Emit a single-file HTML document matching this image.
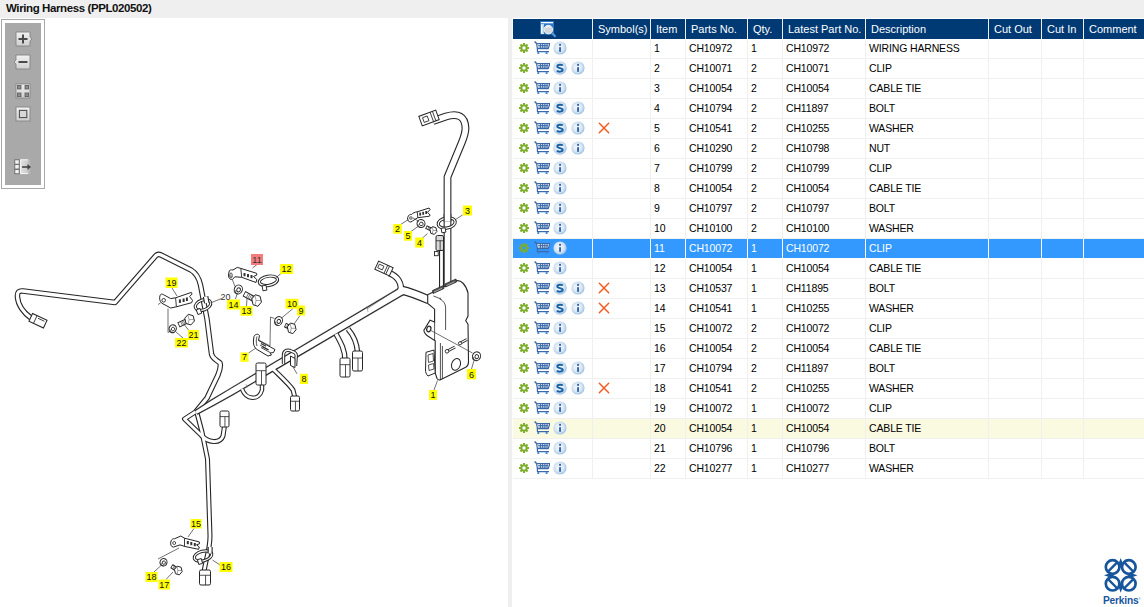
<!DOCTYPE html>
<html><head><meta charset="utf-8"><title>Wiring Harness</title>
<style>
html,body{margin:0;padding:0;}
body{width:1144px;height:607px;overflow:hidden;background:#efefef;position:relative;font-family:"Liberation Sans",sans-serif;}
.title{position:absolute;left:6px;top:2px;font-size:11.5px;letter-spacing:-0.4px;font-weight:bold;color:#111;white-space:nowrap;}
.lp{position:absolute;left:0;top:18px;width:508px;height:589px;background:#fff;overflow:hidden;}
.rp{position:absolute;left:512px;top:18px;width:632px;height:589px;background:#fff;overflow:hidden;}
.tb{position:absolute;left:1px;top:19px;width:42px;height:168px;border:1px solid #a8a8a8;background:#fff;}
.tbi{position:absolute;left:3px;top:3px;width:36px;height:162px;background:#a9a9a9;}
.th,.tr{position:absolute;left:513px;width:631px;height:20px;}
.th{background:#efefef;}
.hc{position:absolute;top:0;height:20px;background:#003a74;color:#fff;font-size:11px;}
.hc span{position:absolute;left:5px;top:4px;white-space:nowrap;}
.tr{background:#f0f0f0;}
.c{position:absolute;top:0;height:19px;background:#fff;font-size:10.5px;letter-spacing:-0.15px;color:#000;}
.c span{position:absolute;left:3px;top:3px;white-space:nowrap;}
.sel .c{background:#3399ff;color:#fff;--gh:#3399ff;}
.sel{background:#fff;}
.hov .c{background:#fafae1;}
.ic{position:absolute;left:0;top:0;}
.xx{position:absolute;left:4px;top:2px;}
.logo{position:absolute;left:1100px;top:558px;}
</style></head><body>
<svg width="0" height="0" style="position:absolute">
<defs>
<radialGradient id="cg" cx="45%" cy="45%" r="55%">
<stop offset="0" stop-color="#f4f7fb"/><stop offset="0.5" stop-color="#e2ecf5"/><stop offset="0.8" stop-color="#c4daee"/><stop offset="0.95" stop-color="#9fc2e3"/><stop offset="1" stop-color="#b5d0ea"/>
</radialGradient>
<symbol id="gear" viewBox="0 0 10 10" width="10" height="10">
<g fill="#7cae2a"><circle cx="5" cy="5" r="3.6"/>
<rect x="4" y="0" width="2" height="10"/><rect x="0" y="4" width="10" height="2"/>
<rect x="4" y="0" width="2" height="10" transform="rotate(45 5 5)"/><rect x="4" y="0" width="2" height="10" transform="rotate(-45 5 5)"/></g>
<circle cx="5" cy="5" r="1.7" fill="var(--gh,#fff)"/>
</symbol>
<symbol id="cart" viewBox="0 0 16 13" width="16" height="13">
<g fill="none" stroke="#3c6aa8" stroke-linejoin="round">
<path d="M0.6 0.5 L2.6 2.6" stroke-width="1.4"/>
<path d="M2.6 2.6 H15.8 L14.3 7.6 H3.4 Z" stroke-width="1.2" fill="#fff"/>
<path d="M3.4 7.6 V10.6 H15" stroke-width="1.2"/>
</g>
<g fill="#3c6aa8"><rect x="4.2" y="4" width="10" height="0.9"/><rect x="4.2" y="5.6" width="9.6" height="0.9"/>
<rect x="6" y="3" width="0.9" height="4.4"/><rect x="8.2" y="3" width="0.9" height="4.4"/><rect x="10.4" y="3" width="0.9" height="4.4"/><rect x="12.6" y="3" width="0.9" height="4.4"/></g>
<circle cx="4.3" cy="12" r="1.1" fill="#3f86d8"/><circle cx="12.6" cy="12" r="1.1" fill="#3f86d8"/>
</symbol>
<symbol id="scirc" viewBox="0 0 14 14" width="14" height="14">
<circle cx="7" cy="7" r="6.8" fill="url(#cg)"/>
<path d="M9.6 4.6 C9 3.4 4.3 3.3 4.3 5.6 C4.3 7.6 9.7 6.6 9.7 8.8 C9.7 11.2 4.8 11 4 9.6" fill="none" stroke="#1862a5" stroke-width="2"/>
</symbol>
<symbol id="icirc" viewBox="0 0 14 14" width="14" height="14">
<circle cx="7" cy="7" r="6.6" fill="url(#cg)"/>
<rect x="6.1" y="2.9" width="1.9" height="1.9" fill="#3465a8"/><rect x="6.1" y="6.2" width="1.9" height="4.6" fill="#3465a8"/>
</symbol>
<symbol id="xmark" viewBox="0 0 14 14" width="14" height="14">
<path d="M2.3 2.3 L11.7 11.7 M11.7 2.3 L2.3 11.7" stroke="#f55a20" stroke-width="1.5" stroke-linecap="round"/>
</symbol>
<symbol id="zoom" viewBox="0 0 22 18" width="22" height="18">
<rect x="0" y="1" width="14" height="13.5" fill="#2a78c6"/>
<rect x="1" y="2" width="12" height="1.3" fill="#fff"/>
<rect x="1" y="4.3" width="3" height="9.5" fill="#fff"/>
<path d="M2.5 6 H4 M2.5 8 H4 M2.5 10 H4 M2.5 12 H4" stroke="#2a78c6" stroke-width="0.8"/>
<path d="M11.8 13 L15.6 16.8" stroke="#5a98d8" stroke-width="2.2"/>
<circle cx="8.3" cy="9.6" r="4.3" fill="#d3d6da" stroke="#f4f4f4" stroke-width="1"/>
<path d="M6 7.5 C7 6.5 9 6.3 10.5 7.2" stroke="#fff" stroke-width="1" fill="none"/>
</symbol>
</defs></svg>
<div class="title">Wiring Harness (PPL020502)</div>
<div class="lp"></div>
<div class="rp"></div>
<div class="tb"><div class="tbi"></div></div>
<svg style="position:absolute;left:0;top:18px" width="50" height="170">
<defs><linearGradient id="bg1" x1="0" y1="0" x2="0" y2="1"><stop offset="0" stop-color="#f2f2f2"/><stop offset="1" stop-color="#cfcfcf"/></linearGradient></defs>
<g transform="translate(0,-18)">
<!-- plus -->
<path d="M16 32 H30 V37 L32 39 L30 41 V46 H16 Z" fill="url(#bg1)" stroke="#858585" stroke-width="0.9"/>
<path d="M23 34.5 V43.5 M18.5 39 H27.5" stroke="#4a4a4a" stroke-width="2"/>
<!-- minus -->
<path d="M16 55 H30 V69 H16 V64 L14 62 L16 60 Z" fill="url(#bg1)" stroke="#858585" stroke-width="0.9"/>
<path d="M18.5 62 H27.5" stroke="#4a4a4a" stroke-width="2"/>
<!-- grid -->
<rect x="16" y="84" width="14" height="14" fill="url(#bg1)" stroke="#858585" stroke-width="0.9"/>
<g fill="#8c8c8c" stroke="#5a5a5a" stroke-width="0.8"><rect x="17.4" y="85.4" width="3.6" height="3.6"/><rect x="25" y="85.4" width="3.6" height="3.6"/><rect x="17.4" y="93" width="3.6" height="3.6"/><rect x="25" y="93" width="3.6" height="3.6"/></g>
<!-- square -->
<rect x="16" y="107" width="14" height="14" fill="url(#bg1)" stroke="#858585" stroke-width="0.9"/>
<rect x="19.4" y="110.4" width="7.4" height="7.2" fill="#d8d8d8" stroke="#505050" stroke-width="1.1"/>
<!-- panel arrow -->
<defs><linearGradient id="pg" x1="0" y1="0" x2="1" y2="0"><stop offset="0" stop-color="#e0e0e0"/><stop offset="0.6" stop-color="#cfcfcf"/><stop offset="1" stop-color="#a9a9a9"/></linearGradient></defs>
<g>
<rect x="14.8" y="159.8" width="4.4" height="4.4" fill="#f2f2f2" stroke="#5e5e5e" stroke-width="0.8"/>
<rect x="14.8" y="164.6" width="4.4" height="4.4" fill="#f2f2f2" stroke="#5e5e5e" stroke-width="0.8"/>
<rect x="14.8" y="169.4" width="4.4" height="4.4" fill="#f2f2f2" stroke="#5e5e5e" stroke-width="0.8"/>
<rect x="20" y="159.5" width="11" height="14.5" fill="url(#pg)"/>
<path d="M20.6 159.8 V173.6 M20.6 159.8 H28 M20.6 173.6 H28" stroke="#fafafa" stroke-width="0.9"/>
<path d="M22 167 H28" stroke="#454545" stroke-width="1.6"/><path d="M27.5 164 L31 167 L27.5 170 Z" fill="#454545"/>
</g>
</g></svg>
<svg style="position:absolute;left:0;top:0" width="508" height="607" viewBox="0 0 508 607">
<path d="M31 318 C24 313 18 305 17.5 297 C17 292 19 290.5 23 291 L115 302.5 L156 255.5 C157.5 254 159 254 161 255 L191 270 C196 273 199 278 200.5 285 L207 319 L211.5 354 C212.5 359 217 360 220 363 C221 366 220 370 218 375 L207 398 L196 411.5" fill="none" stroke="#262626" stroke-width="5.5" stroke-linejoin="round"/>
<path d="M196 411.5 L184.5 419 L201 435 C208 443 220 444 223 436 L224.5 426" fill="none" stroke="#262626" stroke-width="5" stroke-linejoin="round"/>
<path d="M197 413 L202 432 L207.5 459 L210 536 C210 550 206 558 204 572" fill="none" stroke="#262626" stroke-width="5" stroke-linejoin="round"/>
<path d="M31 318 C24 313 18 305 17.5 297 C17 292 19 290.5 23 291 L115 302.5 L156 255.5 C157.5 254 159 254 161 255 L191 270 C196 273 199 278 200.5 285 L207 319 L211.5 354 C212.5 359 217 360 220 363 C221 366 220 370 218 375 L207 398 L196 411.5" fill="none" stroke="#fff" stroke-width="3.3" stroke-linejoin="round"/>
<path d="M196 411.5 L184.5 419 L201 435 C208 443 220 444 223 436 L224.5 426" fill="none" stroke="#fff" stroke-width="2.8" stroke-linejoin="round"/>
<path d="M197 413 L202 432 L207.5 459 L210 536 C210 550 206 558 204 572" fill="none" stroke="#fff" stroke-width="2.8" stroke-linejoin="round"/>
<path d="M197.33 414.74 L213.71 405.94 L233.93 394.67 L404.24 294.79 L399.76 287.21 L230.07 388.13 L210.29 400.06 L194.67 410.26Z" fill="#262626" stroke="#262626" stroke-width="0.2"/>
<path d="M399 292 L402 291" fill="none" stroke="#262626" stroke-width="8.5" stroke-linejoin="round"/>
<path d="M401 290 C410 292 420 296 429 300" fill="none" stroke="#262626" stroke-width="9" stroke-linejoin="round"/>
<path d="M389 273 C397 276 403 283 400 293" fill="none" stroke="#262626" stroke-width="6.5" stroke-linejoin="round"/>
<path d="M242 389 C246 400 259 401 262 390 L262 385" fill="none" stroke="#262626" stroke-width="4.5" stroke-linejoin="round"/>
<path d="M273 369 C280 376 289 384 293 390 L295 398" fill="none" stroke="#262626" stroke-width="5" stroke-linejoin="round"/>
<path d="M336 334 C341 343 345 350 345 360" fill="none" stroke="#262626" stroke-width="5.5" stroke-linejoin="round"/>
<path d="M348 329 C354 336 357 344 357.5 352" fill="none" stroke="#262626" stroke-width="5.5" stroke-linejoin="round"/>
<path d="M196.77 413.79 L213.15 404.99 L233.37 393.72 L403.68 293.84 L400.32 288.16 L230.63 389.08 L210.85 401.01 L195.23 411.21Z" fill="#fff"/><path d="M399 292 L402 291" fill="none" stroke="#fff" stroke-width="6.3" stroke-linejoin="round"/>
<path d="M401 290 C410 292 420 296 429 300" fill="none" stroke="#fff" stroke-width="6.8" stroke-linejoin="round"/>
<path d="M389 273 C397 276 403 283 400 293" fill="none" stroke="#fff" stroke-width="4.3" stroke-linejoin="round"/>
<path d="M242 389 C246 400 259 401 262 390 L262 385" fill="none" stroke="#fff" stroke-width="2.3" stroke-linejoin="round"/>
<path d="M273 369 C280 376 289 384 293 390 L295 398" fill="none" stroke="#fff" stroke-width="2.8" stroke-linejoin="round"/>
<path d="M336 334 C341 343 345 350 345 360" fill="none" stroke="#fff" stroke-width="3.3" stroke-linejoin="round"/>
<path d="M348 329 C354 336 357 344 357.5 352" fill="none" stroke="#fff" stroke-width="3.3" stroke-linejoin="round"/>
<path d="M367 309 L397 289" stroke="#555" stroke-width="0.6" fill="none"/>
<path d="M367 306 L368 312 M246 384 L247 388" stroke="#777" stroke-width="0.5" fill="none"/>
<path d="M441.5 238 L441.5 292" fill="none" stroke="#262626" stroke-width="5" stroke-linejoin="round"/>
<path d="M433 121 L446 116.5 C458 113 465 116 465.5 128 C465.5 133 464 137 462 142 L447.5 177 L447.5 286" fill="none" stroke="#262626" stroke-width="7.8" stroke-linejoin="round"/>
<path d="M441.5 238 L441.5 292" fill="none" stroke="#fff" stroke-width="2.8" stroke-linejoin="round"/>
<path d="M433 121 L446 116.5 C458 113 465 116 465.5 128 C465.5 133 464 137 462 142 L447.5 177 L447.5 286" fill="none" stroke="#fff" stroke-width="5.6" stroke-linejoin="round"/>
<path d="M427.7 294.8 L455.4 281 C461 279 466 285 468 293 L468 316 L465.7 320.7 L468 324.2 L468.5 362 C468.5 365 467 366.5 465.7 367.3 L441 379.5 C439 380.5 438 380 437 378.5 L435.2 373 L435.2 350 L435.2 340.8 L427 335.5 C424 333 423 330 424.8 328.8 L430 320.2 L434.6 321.9 L434.6 309.2 L427.7 303.4 Z" fill="#fff" stroke="#262626" stroke-width="1.1"/>
<path d="M433.5 296 C441.5 298.8 445.6 302 445.6 308 L445.6 330 M440.4 343 L440.4 380 M442.4 346 L442.4 379" fill="none" stroke="#262626" stroke-width="0.8"/>
<path d="M434.6 321.9 L434.6 340.8" fill="none" stroke="#262626" stroke-width="0.8"/>
<path d="M432.5 290.5 L443.5 285.5 L444 288.5 L433 293.5 Z M445 284 L456 279 L456.5 282 L445.5 287 Z" fill="#555" stroke="#262626" stroke-width="0.8"/>
<path d="M434 292 L442 288.2 M446.5 285.5 L454.5 281.7" stroke="#ddd" stroke-width="0.6"/>
<ellipse cx="456" cy="364.4" rx="4.3" ry="6" transform="rotate(20 456 364.4)" fill="#fff" stroke="#262626" stroke-width="1"/>
<path d="M426 352.3 L434 350 L435.2 373 L428 376 C426 374 425.5 372 425.5 370 Z" fill="#fff" stroke="#262626" stroke-width="1"/>
<path d="M428 355 L433 353.5 L433.5 361 L428.5 362.5 Z M428.5 365 L433.5 363.5 L434 369 L429 370.5 Z" fill="none" stroke="#262626" stroke-width="0.8"/>
<ellipse cx="428.8" cy="329" rx="2" ry="2.8" transform="rotate(20 428.8 329)" fill="#fff" stroke="#262626" stroke-width="1.2"/>
<path d="M459.5 343.5 L467 339.5 M446.5 351.5 L455 347" stroke="#262626" stroke-width="3"/><path d="M459.5 343.5 L467 339.5 M446.5 351.5 L455 347" stroke="#fff" stroke-width="1.2"/>
<circle cx="460" cy="343.3" r="1.6" fill="#fff" stroke="#262626" stroke-width="0.9"/><circle cx="447" cy="351.3" r="1.8" fill="#fff" stroke="#262626" stroke-width="0.9"/>
<g transform="rotate(25 38.0 320.75)"><rect x="30" y="316.5" width="16" height="8.5" fill="#fff" stroke="#262626" stroke-width="1"/><path d="M35 316.5 L35 325 M37 318.5 L44 318.5" stroke="#262626" stroke-width="0.8"/></g>
<g transform="rotate(25 384.0 268.5)"><rect x="376" y="264" width="16" height="9" fill="#fff" stroke="#262626" stroke-width="1"/><path d="M386 264 L386 273 M388 264 L388 273" stroke="#262626" stroke-width="0.8"/><rect x="378" y="266.5" width="5" height="4" fill="none" stroke="#262626" stroke-width="0.8"/></g>
<g transform="rotate(-20 429.0 118.0)"><rect x="420" y="113" width="18" height="10" fill="#fff" stroke="#262626" stroke-width="1"/><path d="M432 113 L432 123 M434.5 113 L434.5 123" stroke="#262626" stroke-width="0.8"/><rect x="423" y="115.5" width="5" height="5" fill="none" stroke="#262626" stroke-width="0.8"/></g>
<rect x="256" y="363" width="10" height="22" rx="1.5" fill="#fff" stroke="#262626" stroke-width="1"/><path d="M256 370.7 L266 370.7 M261.5 370.7 L261.5 385" stroke="#262626" stroke-width="0.8"/>
<rect x="290.5" y="396" width="9" height="15" rx="1.5" fill="#fff" stroke="#262626" stroke-width="1"/><path d="M290.5 401.25 L299.5 401.25 M295.45 401.25 L295.45 411" stroke="#262626" stroke-width="0.8"/>
<rect x="340" y="358" width="10" height="19" rx="1.5" fill="#fff" stroke="#262626" stroke-width="1"/><path d="M340 364.65 L350 364.65 M345.5 364.65 L345.5 377" stroke="#262626" stroke-width="0.8"/>
<rect x="352.5" y="351" width="10" height="20" rx="1.5" fill="#fff" stroke="#262626" stroke-width="1"/><path d="M352.5 358.0 L362.5 358.0 M358.0 358.0 L358.0 371" stroke="#262626" stroke-width="0.8"/>
<rect x="220" y="411" width="9" height="16" rx="1.5" fill="#fff" stroke="#262626" stroke-width="1"/><path d="M220 416.6 L229 416.6 M224.95 416.6 L224.95 427" stroke="#262626" stroke-width="0.8"/>
<rect x="199.5" y="570" width="11" height="15" rx="1.5" fill="#fff" stroke="#262626" stroke-width="1"/><path d="M199.5 575.25 L210.5 575.25 M205.55 575.25 L205.55 585" stroke="#262626" stroke-width="0.8"/>
<rect x="436" y="235.5" width="7.5" height="15" rx="1.5" fill="#d8d8d8" stroke="#262626" stroke-width="1"/><path d="M436 240.75 L443.5 240.75 M440.125 240.75 L440.125 250.5" stroke="#262626" stroke-width="0.8"/>
<rect x="434.5" y="251.5" width="3.7" height="4.2" fill="#fff" stroke="#262626" stroke-width="0.9"/>
<g transform="rotate(-20 203 305)"><ellipse cx="203" cy="305" rx="8" ry="5" fill="none" stroke="#262626" stroke-width="3.2"/><ellipse cx="203" cy="305" rx="8" ry="5" fill="none" stroke="#fff" stroke-width="1.3"/></g><rect x="197" y="309" width="4" height="5" fill="#fff" stroke="#262626" stroke-width="0.9" transform="rotate(-20 199.0 311.5)"/>
<g transform="rotate(-10 446.7 223)"><ellipse cx="446.7" cy="223" rx="8.6" ry="5" fill="none" stroke="#262626" stroke-width="3.2"/><ellipse cx="446.7" cy="223" rx="8.6" ry="5" fill="none" stroke="#fff" stroke-width="1.3"/></g><rect x="441.5" y="228" width="4" height="4.5" fill="#fff" stroke="#262626" stroke-width="0.9" transform="rotate(-10 443.5 230.25)"/>
<path d="M283.5 364 L283.5 355 C283.5 351 286.5 349.5 290 350.5 L294.5 352.5 C296.5 353.5 296.5 356 296 358.5 L295.5 366" fill="none" stroke="#262626" stroke-width="3.4" stroke-linejoin="round"/>
<path d="M283.5 364 L283.5 355 C283.5 351 286.5 349.5 290 350.5 L294.5 352.5 C296.5 353.5 296.5 356 296 358.5 L295.5 366" fill="none" stroke="#fff" stroke-width="1.4" stroke-linejoin="round"/>
<path d="M290.5 356 L295 358.5 L295 367.5 L290.5 365.5 Z" fill="#fff" stroke="#262626" stroke-width="1"/>
<g transform="rotate(-15 203 556)"><ellipse cx="203" cy="556" rx="9" ry="4.8" fill="none" stroke="#262626" stroke-width="3.2"/><ellipse cx="203" cy="556" rx="9" ry="4.8" fill="none" stroke="#fff" stroke-width="1.3"/></g><rect x="198" y="559" width="4" height="5" fill="#fff" stroke="#262626" stroke-width="0.9" transform="rotate(-15 200.0 561.5)"/>
<g transform="rotate(-10 268.4 280.8)"><ellipse cx="268.4" cy="280.8" rx="9.2" ry="4.6" fill="none" stroke="#262626" stroke-width="3.2"/><ellipse cx="268.4" cy="280.8" rx="9.2" ry="4.6" fill="none" stroke="#fff" stroke-width="1.3"/></g><rect x="262.5" y="285.5" width="4" height="5" fill="#fff" stroke="#262626" stroke-width="0.9" transform="rotate(-10 264.5 288.0)"/>
<path d="M447.5 214 L447.5 221.5" fill="none" stroke="#262626" stroke-width="7.8" stroke-linejoin="round"/>
<path d="M205.6 296.5 L206.8 303" fill="none" stroke="#262626" stroke-width="5.5" stroke-linejoin="round"/>
<path d="M210.2 547 L210.1 553.5" fill="none" stroke="#262626" stroke-width="5" stroke-linejoin="round"/>
<path d="M447.5 214 L447.5 221.5" fill="none" stroke="#fff" stroke-width="5.6" stroke-linejoin="round"/>
<path d="M205.6 296.5 L206.8 303" fill="none" stroke="#fff" stroke-width="3.3" stroke-linejoin="round"/>
<path d="M210.2 547 L210.1 553.5" fill="none" stroke="#fff" stroke-width="2.8" stroke-linejoin="round"/>
<g transform="translate(160 292) rotate(0) scale(1.0 1.0)"><path d="M0 3.7 C0.5 2 2 1.8 3.2 2.5 L10.7 6.6 L15.6 5.8 L31.3 0.4 L32.1 2 L29.6 4.5 L32.5 8.3 L31.7 10.7 L16.4 14.8 L10.7 16 L1.6 11.1 C-0.5 9 -0.8 6 0 3.7 Z" fill="#fff" stroke="#262626" stroke-width="1"/><path d="M15.6 5.8 L16.4 14.8" stroke="#262626" stroke-width="0.9"/><circle cx="3.7" cy="8.3" r="1.8" fill="none" stroke="#262626" stroke-width="0.9"/><rect x="18.9" y="7.4" width="2" height="3.5" fill="#333"/><rect x="22.6" y="6.5" width="2" height="3.5" fill="#333"/><rect x="25.9" y="5.5" width="2" height="3.5" fill="#333"/></g>
<path d="M407.7 217.5 C408.5 215 410 214 411.4 214.5 C413 213 415 212 417.3 211.8 L429.1 208 L430.1 209.6 L427.5 212.3 L430.1 215 L429.5 216.2 L417.8 217.7 C415 219 413 221 410.9 222 C408.5 222 407 220 407.7 217.5 Z" fill="#fff" stroke="#262626" stroke-width="1"/>
<path d="M417.3 211.8 L417.8 217.7" stroke="#262626" stroke-width="0.9"/><circle cx="410.9" cy="218" r="1.3" fill="none" stroke="#262626" stroke-width="0.8"/>
<rect x="419.3" y="212.6" width="1.8" height="3" fill="#333"/><rect x="422.3" y="211.8" width="1.8" height="3" fill="#333"/><rect x="425.3" y="211" width="1.8" height="3" fill="#333"/>
<path d="M171 541 C172 539 173 538.5 174.5 538.8 L180.8 536 L184.5 538.2 L199.3 541.9 L199.5 543.8 L196.5 544.8 L199.3 547 L198.6 549.3 L184.5 546.4 L180 544.9 L173.4 547.1 C171 547 170 544 171 541 Z" fill="#fff" stroke="#262626" stroke-width="1"/>
<path d="M184.5 538.2 L184.5 546.4" stroke="#262626" stroke-width="0.9"/><circle cx="174.2" cy="543" r="1.5" fill="none" stroke="#262626" stroke-width="0.8"/>
<rect x="186.8" y="541" width="2" height="3.2" fill="#333"/><rect x="190.3" y="542" width="2" height="3.2" fill="#333"/><rect x="193.8" y="543" width="2" height="3.2" fill="#333"/>
<path d="M229 272 C229 270 231 269.5 233 270 L237.3 267.4 L240.8 268.4 L256.6 273.3 L256.8 275 L253.5 276.5 L256.8 279.5 L256 282.5 L241.7 277.3 L234.8 276.8 L232.5 279.5 C230 280 228.5 278 228.5 275 Z" fill="#fff" stroke="#262626" stroke-width="1"/>
<path d="M240.8 268.4 L241.7 277.3" stroke="#262626" stroke-width="0.9"/><ellipse cx="231" cy="275.5" rx="1.3" ry="2.6" fill="none" stroke="#262626" stroke-width="0.8"/>
<rect x="243.5" y="273" width="2" height="3.2" fill="#333"/><rect x="247" y="274" width="2" height="3.2" fill="#333"/><rect x="250.5" y="275" width="2" height="3.2" fill="#333"/>
<path d="M254 336.5 C255 334 258 333.5 259.5 335.5 L258.5 340.5 L275 349.5 L273.5 352.5 L270 353 L271.5 355 L268 356 L257 349.5 C254 347.5 253 344 253.5 340 Z" fill="#fff" stroke="#262626" stroke-width="1"/>
<path d="M257 336.5 C256 339 256 343 257 346 M260 345 L269 350 M261 347.5 L270 352.5" stroke="#262626" stroke-width="0.8" fill="none"/>
<path d="M261 343.5 L266 346.3 M262 346.5 L268 349.8" stroke="#333" stroke-width="1.3"/>
<g transform="rotate(20 172.7 328.7)"><ellipse cx="172.7" cy="328.7" rx="3.6" ry="4" fill="#fff" stroke="#262626" stroke-width="1"/><ellipse cx="173.1" cy="328.9" rx="1.62" ry="1.8" fill="none" stroke="#262626" stroke-width="0.9"/><path d="M170.1 330.3 A3.6 4 0 0 0 174.5 332.2" fill="none" stroke="#262626" stroke-width="0.7"/></g>
<g transform="rotate(25 238.3 289.5)"><ellipse cx="238.3" cy="289.5" rx="4" ry="4.6" fill="#fff" stroke="#262626" stroke-width="1"/><ellipse cx="238.70000000000002" cy="289.7" rx="1.8" ry="2.07" fill="none" stroke="#262626" stroke-width="0.9"/><path d="M235.3 291.34 A4 4.6 0 0 0 240.3 293.6" fill="none" stroke="#262626" stroke-width="0.7"/></g>
<g transform="rotate(25 278.5 321)"><ellipse cx="278.5" cy="321" rx="3.8" ry="4.6" fill="#fff" stroke="#262626" stroke-width="1"/><ellipse cx="278.9" cy="321.2" rx="1.71" ry="2.07" fill="none" stroke="#262626" stroke-width="0.9"/><path d="M275.7 322.84 A3.8 4.6 0 0 0 280.4 325.1" fill="none" stroke="#262626" stroke-width="0.7"/></g>
<g transform="rotate(20 421 223.6)"><ellipse cx="421" cy="223.6" rx="4" ry="4" fill="#fff" stroke="#262626" stroke-width="1"/><ellipse cx="421.4" cy="223.79999999999998" rx="1.8" ry="1.8" fill="none" stroke="#262626" stroke-width="0.9"/><path d="M418 225.2 A4 4 0 0 0 423.0 227.1" fill="none" stroke="#262626" stroke-width="0.7"/></g>
<g transform="rotate(25 476.5 356.3)"><ellipse cx="476.5" cy="356.3" rx="4" ry="4.5" fill="#fff" stroke="#262626" stroke-width="1"/><ellipse cx="476.9" cy="356.5" rx="1.8" ry="2.025" fill="none" stroke="#262626" stroke-width="0.9"/><path d="M473.5 358.1 A4 4.5 0 0 0 478.5 360.3" fill="none" stroke="#262626" stroke-width="0.7"/></g>
<g transform="rotate(20 163.5 562.3)"><ellipse cx="163.5" cy="562.3" rx="3.5" ry="3.8" fill="#fff" stroke="#262626" stroke-width="1"/><ellipse cx="163.9" cy="562.5" rx="1.575" ry="1.71" fill="none" stroke="#262626" stroke-width="0.9"/><path d="M161.0 563.8199999999999 A3.5 3.8 0 0 0 165.25 565.5999999999999" fill="none" stroke="#262626" stroke-width="0.7"/></g>
<path d="M178.5 325 L189.6 319.6" stroke="#262626" stroke-width="5.5"/><path d="M179.21938807099664 324.65002742492055 L189.6 319.6" stroke="#fff" stroke-width="3.5"/><path d="M182.46 325.52 L180.53 321.56" stroke="#444" stroke-width="0.7"/><path d="M183.79 324.87 L181.87 320.92" stroke="#444" stroke-width="0.7"/><path d="M185.12 324.22 L183.20 320.27" stroke="#444" stroke-width="0.7"/><path d="M186.46 323.58 L184.53 319.62" stroke="#444" stroke-width="0.7"/><path d="M194.43 321.02 L190.89 324.91 L186.06 323.49 L184.77 318.18 L188.31 314.29 L193.14 315.71 Z" fill="#fff" stroke="#262626" stroke-width="1" stroke-linejoin="round"/><path d="M187.85 314.65 L189.10 319.60 L187.85 324.55 M189.10 319.60 L194.35 319.60" fill="none" stroke="#666" stroke-width="0.6"/>
<path d="M244 293.6 L256.6 300.5" stroke="#262626" stroke-width="6"/><path d="M244.7016770142732 293.9842516982925 L256.6 300.5" stroke="#fff" stroke-width="4"/><path d="M246.25 297.57 L248.55 293.36" stroke="#444" stroke-width="0.7"/><path d="M247.76 298.40 L250.07 294.19" stroke="#444" stroke-width="0.7"/><path d="M249.27 299.22 L251.58 295.01" stroke="#444" stroke-width="0.7"/><path d="M250.79 300.05 L253.09 295.84" stroke="#444" stroke-width="0.7"/><path d="M261.43 302.05 L257.89 306.30 L253.06 304.74 L251.77 298.95 L255.31 294.70 L260.14 296.26 Z" fill="#fff" stroke="#262626" stroke-width="1" stroke-linejoin="round"/><path d="M254.85 295.10 L256.10 300.50 L254.85 305.90 M256.10 300.50 L261.35 300.50" fill="none" stroke="#666" stroke-width="0.6"/>
<path d="M285 325 L291.7 328.3" stroke="#262626" stroke-width="4.8"/><path d="M285.71767122692813 325.35347985803924 L291.7 328.3" stroke="#fff" stroke-width="2.8"/><path d="M286.16 327.71 L287.86 324.27" stroke="#444" stroke-width="0.7"/><path d="M287.17 328.21 L288.86 324.76" stroke="#444" stroke-width="0.7"/><path d="M288.17 328.70 L289.87 325.26" stroke="#444" stroke-width="0.7"/><path d="M296.05 329.72 L292.86 333.61 L288.52 332.19 L287.35 326.88 L290.54 322.99 L294.88 324.41 Z" fill="#fff" stroke="#262626" stroke-width="1" stroke-linejoin="round"/><path d="M290.12 323.35 L291.25 328.30 L290.12 333.25 M291.25 328.30 L295.97 328.30" fill="none" stroke="#666" stroke-width="0.6"/>
<path d="M426 227 L433.4 230.5" stroke="#262626" stroke-width="4"/><path d="M426.7231891432639 227.3420489191113 L433.4 230.5" stroke="#fff" stroke-width="2"/><path d="M427.54 229.50 L428.90 226.60" stroke="#444" stroke-width="0.7"/><path d="M428.65 230.02 L430.01 227.13" stroke="#444" stroke-width="0.7"/><path d="M429.76 230.55 L431.12 227.65" stroke="#444" stroke-width="0.7"/><path d="M436.88 231.54 L434.33 234.36 L430.85 233.33 L429.92 229.46 L432.47 226.64 L435.95 227.67 Z" fill="#fff" stroke="#262626" stroke-width="1" stroke-linejoin="round"/><path d="M432.14 226.90 L433.04 230.50 L432.14 234.10 M433.04 230.50 L436.82 230.50" fill="none" stroke="#666" stroke-width="0.6"/>
<path d="M171.5 566 L178.3 570.5" stroke="#262626" stroke-width="4.5"/><path d="M172.16714576458122 566.4414935206787 L178.3 570.5" stroke="#fff" stroke-width="2.5"/><path d="M172.55 568.85 L174.53 565.85" stroke="#444" stroke-width="0.7"/><path d="M173.57 569.53 L175.55 566.52" stroke="#444" stroke-width="0.7"/><path d="M174.59 570.20 L176.57 567.20" stroke="#444" stroke-width="0.7"/><path d="M182.16 571.66 L179.34 574.85 L175.47 573.68 L174.44 569.34 L177.26 566.15 L181.13 567.32 Z" fill="#fff" stroke="#262626" stroke-width="1" stroke-linejoin="round"/><path d="M176.90 566.45 L177.90 570.50 L176.90 574.55 M177.90 570.50 L182.10 570.50" fill="none" stroke="#666" stroke-width="0.6"/>
<g stroke="#333" stroke-width="0.7" fill="none">
<path d="M172 288 L177 296"/>
<path d="M235.5 299 L237 294"/>
<path d="M246.5 306.5 L247 298"/>
<path d="M257 264.5 L252.5 268"/>
<path d="M281 273.5 L275.5 278"/>
<path d="M210.5 303 L221.5 298.5"/>
<path d="M293 308.5 L281 318.5"/>
<path d="M300 315.5 L294 324"/>
<path d="M248.5 353 L256 348"/>
<path d="M297 373.8 L293 367"/>
<path d="M462.5 215 L455.5 219.5"/>
<path d="M400.5 224.5 L408.5 219.5"/>
<path d="M411 231.5 L418 226.5"/>
<path d="M422 238.5 L427.5 233.5"/>
<path d="M471.5 369 L474 360.5"/>
<path d="M434 390 L437.5 380.5"/>
<path d="M194 528.5 L188 537"/>
<path d="M220 565 L212.5 560"/>
<path d="M154 572 L161 565.5"/>
<path d="M166 579.5 L173 572"/>
<path d="M188.5 330 L184.5 325"/>
<path d="M183 338 L175.5 331.5"/>
<path d="M168 308.5 L168 332.5 L170.5 331"/>
<path d="M160.5 303 L158 304.5"/>
<path d="M232.5 280 L235 286.5"/>
<path d="M232 276 L230 276"/>
<path d="M270 346 L270.5 317 L274.5 318.5 M258 339.5 L270 346"/>
<path d="M430 330 L472.5 353"/>
<path d="M179 548 L158 559"/>
<path d="M413 218 L419 221.5"/>
<path d="M440 297.5 L441 300"/>
</g>
<rect x="251" y="254" width="12" height="11" fill="#f47c7c"/><text x="257.0" y="263.2" text-anchor="middle" font-family="Liberation Sans" font-size="9" fill="#333">11</text>
<rect x="280" y="264" width="13" height="10" fill="#ffff00"/><text x="286.5" y="272.2" text-anchor="middle" font-family="Liberation Sans" font-size="9" fill="#111">12</text>
<rect x="165.5" y="277.5" width="12.0" height="10.5" fill="#ffff00"/><text x="171.5" y="286.2" text-anchor="middle" font-family="Liberation Sans" font-size="9" fill="#111">19</text>
<rect x="227" y="299.5" width="13" height="10.0" fill="#ffff00"/><text x="233.5" y="307.7" text-anchor="middle" font-family="Liberation Sans" font-size="9" fill="#111">14</text>
<rect x="240.5" y="306" width="12.0" height="9.800000000000011" fill="#ffff00"/><text x="246.5" y="314.0" text-anchor="middle" font-family="Liberation Sans" font-size="9" fill="#111">13</text>
<rect x="285.5" y="298.8" width="13.0" height="9.899999999999977" fill="#ffff00"/><text x="292.0" y="306.9" text-anchor="middle" font-family="Liberation Sans" font-size="9" fill="#111">10</text>
<rect x="297" y="305.5" width="8" height="10.0" fill="#ffff00"/><text x="301.0" y="313.7" text-anchor="middle" font-family="Liberation Sans" font-size="9" fill="#111">9</text>
<rect x="240.5" y="352.5" width="8.0" height="9.300000000000011" fill="#ffff00"/><text x="244.5" y="360.0" text-anchor="middle" font-family="Liberation Sans" font-size="9" fill="#111">7</text>
<rect x="300" y="373.8" width="8" height="10.199999999999989" fill="#ffff00"/><text x="304.0" y="382.2" text-anchor="middle" font-family="Liberation Sans" font-size="9" fill="#111">8</text>
<rect x="188" y="330" width="11" height="10" fill="#ffff00"/><text x="193.5" y="338.2" text-anchor="middle" font-family="Liberation Sans" font-size="9" fill="#111">21</text>
<rect x="175" y="338" width="13" height="9.5" fill="#ffff00"/><text x="181.5" y="345.7" text-anchor="middle" font-family="Liberation Sans" font-size="9" fill="#111">22</text>
<rect x="463" y="205.5" width="9" height="10.0" fill="#ffff00"/><text x="467.5" y="213.7" text-anchor="middle" font-family="Liberation Sans" font-size="9" fill="#111">3</text>
<rect x="393.2" y="224.1" width="8.600000000000023" height="9.599999999999994" fill="#ffff00"/><text x="397.5" y="231.89999999999998" text-anchor="middle" font-family="Liberation Sans" font-size="9" fill="#111">2</text>
<rect x="403.9" y="231" width="8.100000000000023" height="9.699999999999989" fill="#ffff00"/><text x="407.95" y="238.89999999999998" text-anchor="middle" font-family="Liberation Sans" font-size="9" fill="#111">5</text>
<rect x="415.2" y="237.5" width="8.5" height="10.099999999999994" fill="#ffff00"/><text x="419.45" y="245.79999999999998" text-anchor="middle" font-family="Liberation Sans" font-size="9" fill="#111">4</text>
<rect x="467" y="369" width="9" height="10.399999999999977" fill="#ffff00"/><text x="471.5" y="377.59999999999997" text-anchor="middle" font-family="Liberation Sans" font-size="9" fill="#111">6</text>
<rect x="429" y="390" width="8" height="10" fill="#ffff00"/><text x="433.0" y="398.2" text-anchor="middle" font-family="Liberation Sans" font-size="9" fill="#111">1</text>
<rect x="190.5" y="519" width="11.0" height="9.5" fill="#ffff00"/><text x="196.0" y="526.7" text-anchor="middle" font-family="Liberation Sans" font-size="9" fill="#111">15</text>
<rect x="219.5" y="562" width="13.0" height="10" fill="#ffff00"/><text x="226.0" y="570.2" text-anchor="middle" font-family="Liberation Sans" font-size="9" fill="#111">16</text>
<rect x="145.5" y="572" width="12.0" height="10" fill="#ffff00"/><text x="151.5" y="580.2" text-anchor="middle" font-family="Liberation Sans" font-size="9" fill="#111">18</text>
<rect x="158.5" y="579.5" width="11.5" height="10.0" fill="#ffff00"/><text x="164.25" y="587.7" text-anchor="middle" font-family="Liberation Sans" font-size="9" fill="#111">17</text>
<text x="225.5" y="299.5" text-anchor="middle" font-family="Liberation Sans" font-size="9" fill="#333">20</text>
</svg><div class="th" style="top:19px">
<div class="hc" style="left:0px;width:79px"><svg width="22" height="18" style="position:absolute;left:27px;top:1px"><use href="#zoom"/></svg></div>
<div class="hc" style="left:80px;width:57px"><span>Symbol(s)</span></div>
<div class="hc" style="left:138px;width:34px"><span>Item</span></div>
<div class="hc" style="left:173px;width:61px"><span>Parts No.</span></div>
<div class="hc" style="left:235px;width:34px"><span>Qty.</span></div>
<div class="hc" style="left:270px;width:82px"><span>Latest Part No.</span></div>
<div class="hc" style="left:353px;width:122px"><span>Description</span></div>
<div class="hc" style="left:476px;width:52px"><span>Cut Out</span></div>
<div class="hc" style="left:529px;width:41px"><span>Cut In</span></div>
<div class="hc" style="left:571px;width:60px"><span>Comment</span></div>
</div>
<div class="tr" style="top:39px">
<div class="c" style="left:0px;width:79px"><svg class="ic" width="80" height="19"><use href="#gear" x="6" y="4"/><use href="#cart" x="21" y="2"/><use href="#icirc" x="40" y="2"/></svg></div>
<div class="c" style="left:80px;width:57px"></div>
<div class="c" style="left:138px;width:34px"><span>1</span></div>
<div class="c" style="left:173px;width:61px"><span>CH10972</span></div>
<div class="c" style="left:235px;width:34px"><span>1</span></div>
<div class="c" style="left:270px;width:82px"><span>CH10972</span></div>
<div class="c" style="left:353px;width:122px"><span>WIRING HARNESS</span></div>
<div class="c" style="left:476px;width:52px"><span></span></div>
<div class="c" style="left:529px;width:41px"><span></span></div>
<div class="c" style="left:571px;width:60px"><span></span></div>
</div>
<div class="tr" style="top:59px">
<div class="c" style="left:0px;width:79px"><svg class="ic" width="80" height="19"><use href="#gear" x="6" y="4"/><use href="#cart" x="21" y="2"/><use href="#scirc" x="40" y="2"/><use href="#icirc" x="58" y="2"/></svg></div>
<div class="c" style="left:80px;width:57px"></div>
<div class="c" style="left:138px;width:34px"><span>2</span></div>
<div class="c" style="left:173px;width:61px"><span>CH10071</span></div>
<div class="c" style="left:235px;width:34px"><span>2</span></div>
<div class="c" style="left:270px;width:82px"><span>CH10071</span></div>
<div class="c" style="left:353px;width:122px"><span>CLIP</span></div>
<div class="c" style="left:476px;width:52px"><span></span></div>
<div class="c" style="left:529px;width:41px"><span></span></div>
<div class="c" style="left:571px;width:60px"><span></span></div>
</div>
<div class="tr" style="top:79px">
<div class="c" style="left:0px;width:79px"><svg class="ic" width="80" height="19"><use href="#gear" x="6" y="4"/><use href="#cart" x="21" y="2"/><use href="#icirc" x="40" y="2"/></svg></div>
<div class="c" style="left:80px;width:57px"></div>
<div class="c" style="left:138px;width:34px"><span>3</span></div>
<div class="c" style="left:173px;width:61px"><span>CH10054</span></div>
<div class="c" style="left:235px;width:34px"><span>2</span></div>
<div class="c" style="left:270px;width:82px"><span>CH10054</span></div>
<div class="c" style="left:353px;width:122px"><span>CABLE TIE</span></div>
<div class="c" style="left:476px;width:52px"><span></span></div>
<div class="c" style="left:529px;width:41px"><span></span></div>
<div class="c" style="left:571px;width:60px"><span></span></div>
</div>
<div class="tr" style="top:99px">
<div class="c" style="left:0px;width:79px"><svg class="ic" width="80" height="19"><use href="#gear" x="6" y="4"/><use href="#cart" x="21" y="2"/><use href="#scirc" x="40" y="2"/><use href="#icirc" x="58" y="2"/></svg></div>
<div class="c" style="left:80px;width:57px"></div>
<div class="c" style="left:138px;width:34px"><span>4</span></div>
<div class="c" style="left:173px;width:61px"><span>CH10794</span></div>
<div class="c" style="left:235px;width:34px"><span>2</span></div>
<div class="c" style="left:270px;width:82px"><span>CH11897</span></div>
<div class="c" style="left:353px;width:122px"><span>BOLT</span></div>
<div class="c" style="left:476px;width:52px"><span></span></div>
<div class="c" style="left:529px;width:41px"><span></span></div>
<div class="c" style="left:571px;width:60px"><span></span></div>
</div>
<div class="tr" style="top:119px">
<div class="c" style="left:0px;width:79px"><svg class="ic" width="80" height="19"><use href="#gear" x="6" y="4"/><use href="#cart" x="21" y="2"/><use href="#scirc" x="40" y="2"/><use href="#icirc" x="58" y="2"/></svg></div>
<div class="c" style="left:80px;width:57px"><svg class="xx" width="14" height="14"><use href="#xmark"/></svg></div>
<div class="c" style="left:138px;width:34px"><span>5</span></div>
<div class="c" style="left:173px;width:61px"><span>CH10541</span></div>
<div class="c" style="left:235px;width:34px"><span>2</span></div>
<div class="c" style="left:270px;width:82px"><span>CH10255</span></div>
<div class="c" style="left:353px;width:122px"><span>WASHER</span></div>
<div class="c" style="left:476px;width:52px"><span></span></div>
<div class="c" style="left:529px;width:41px"><span></span></div>
<div class="c" style="left:571px;width:60px"><span></span></div>
</div>
<div class="tr" style="top:139px">
<div class="c" style="left:0px;width:79px"><svg class="ic" width="80" height="19"><use href="#gear" x="6" y="4"/><use href="#cart" x="21" y="2"/><use href="#scirc" x="40" y="2"/><use href="#icirc" x="58" y="2"/></svg></div>
<div class="c" style="left:80px;width:57px"></div>
<div class="c" style="left:138px;width:34px"><span>6</span></div>
<div class="c" style="left:173px;width:61px"><span>CH10290</span></div>
<div class="c" style="left:235px;width:34px"><span>2</span></div>
<div class="c" style="left:270px;width:82px"><span>CH10798</span></div>
<div class="c" style="left:353px;width:122px"><span>NUT</span></div>
<div class="c" style="left:476px;width:52px"><span></span></div>
<div class="c" style="left:529px;width:41px"><span></span></div>
<div class="c" style="left:571px;width:60px"><span></span></div>
</div>
<div class="tr" style="top:159px">
<div class="c" style="left:0px;width:79px"><svg class="ic" width="80" height="19"><use href="#gear" x="6" y="4"/><use href="#cart" x="21" y="2"/><use href="#icirc" x="40" y="2"/></svg></div>
<div class="c" style="left:80px;width:57px"></div>
<div class="c" style="left:138px;width:34px"><span>7</span></div>
<div class="c" style="left:173px;width:61px"><span>CH10799</span></div>
<div class="c" style="left:235px;width:34px"><span>2</span></div>
<div class="c" style="left:270px;width:82px"><span>CH10799</span></div>
<div class="c" style="left:353px;width:122px"><span>CLIP</span></div>
<div class="c" style="left:476px;width:52px"><span></span></div>
<div class="c" style="left:529px;width:41px"><span></span></div>
<div class="c" style="left:571px;width:60px"><span></span></div>
</div>
<div class="tr" style="top:179px">
<div class="c" style="left:0px;width:79px"><svg class="ic" width="80" height="19"><use href="#gear" x="6" y="4"/><use href="#cart" x="21" y="2"/><use href="#icirc" x="40" y="2"/></svg></div>
<div class="c" style="left:80px;width:57px"></div>
<div class="c" style="left:138px;width:34px"><span>8</span></div>
<div class="c" style="left:173px;width:61px"><span>CH10054</span></div>
<div class="c" style="left:235px;width:34px"><span>2</span></div>
<div class="c" style="left:270px;width:82px"><span>CH10054</span></div>
<div class="c" style="left:353px;width:122px"><span>CABLE TIE</span></div>
<div class="c" style="left:476px;width:52px"><span></span></div>
<div class="c" style="left:529px;width:41px"><span></span></div>
<div class="c" style="left:571px;width:60px"><span></span></div>
</div>
<div class="tr" style="top:199px">
<div class="c" style="left:0px;width:79px"><svg class="ic" width="80" height="19"><use href="#gear" x="6" y="4"/><use href="#cart" x="21" y="2"/><use href="#icirc" x="40" y="2"/></svg></div>
<div class="c" style="left:80px;width:57px"></div>
<div class="c" style="left:138px;width:34px"><span>9</span></div>
<div class="c" style="left:173px;width:61px"><span>CH10797</span></div>
<div class="c" style="left:235px;width:34px"><span>2</span></div>
<div class="c" style="left:270px;width:82px"><span>CH10797</span></div>
<div class="c" style="left:353px;width:122px"><span>BOLT</span></div>
<div class="c" style="left:476px;width:52px"><span></span></div>
<div class="c" style="left:529px;width:41px"><span></span></div>
<div class="c" style="left:571px;width:60px"><span></span></div>
</div>
<div class="tr" style="top:219px">
<div class="c" style="left:0px;width:79px"><svg class="ic" width="80" height="19"><use href="#gear" x="6" y="4"/><use href="#cart" x="21" y="2"/><use href="#icirc" x="40" y="2"/></svg></div>
<div class="c" style="left:80px;width:57px"></div>
<div class="c" style="left:138px;width:34px"><span>10</span></div>
<div class="c" style="left:173px;width:61px"><span>CH10100</span></div>
<div class="c" style="left:235px;width:34px"><span>2</span></div>
<div class="c" style="left:270px;width:82px"><span>CH10100</span></div>
<div class="c" style="left:353px;width:122px"><span>WASHER</span></div>
<div class="c" style="left:476px;width:52px"><span></span></div>
<div class="c" style="left:529px;width:41px"><span></span></div>
<div class="c" style="left:571px;width:60px"><span></span></div>
</div>
<div class="tr sel" style="top:239px">
<div class="c" style="left:0px;width:79px"><svg class="ic" width="80" height="19"><use href="#gear" x="6" y="4"/><use href="#cart" x="21" y="2"/><use href="#icirc" x="40" y="2"/></svg></div>
<div class="c" style="left:80px;width:57px"></div>
<div class="c" style="left:138px;width:34px"><span>11</span></div>
<div class="c" style="left:173px;width:61px"><span>CH10072</span></div>
<div class="c" style="left:235px;width:34px"><span>1</span></div>
<div class="c" style="left:270px;width:82px"><span>CH10072</span></div>
<div class="c" style="left:353px;width:122px"><span>CLIP</span></div>
<div class="c" style="left:476px;width:52px"><span></span></div>
<div class="c" style="left:529px;width:41px"><span></span></div>
<div class="c" style="left:571px;width:60px"><span></span></div>
</div>
<div class="tr" style="top:259px">
<div class="c" style="left:0px;width:79px"><svg class="ic" width="80" height="19"><use href="#gear" x="6" y="4"/><use href="#cart" x="21" y="2"/><use href="#icirc" x="40" y="2"/></svg></div>
<div class="c" style="left:80px;width:57px"></div>
<div class="c" style="left:138px;width:34px"><span>12</span></div>
<div class="c" style="left:173px;width:61px"><span>CH10054</span></div>
<div class="c" style="left:235px;width:34px"><span>1</span></div>
<div class="c" style="left:270px;width:82px"><span>CH10054</span></div>
<div class="c" style="left:353px;width:122px"><span>CABLE TIE</span></div>
<div class="c" style="left:476px;width:52px"><span></span></div>
<div class="c" style="left:529px;width:41px"><span></span></div>
<div class="c" style="left:571px;width:60px"><span></span></div>
</div>
<div class="tr" style="top:279px">
<div class="c" style="left:0px;width:79px"><svg class="ic" width="80" height="19"><use href="#gear" x="6" y="4"/><use href="#cart" x="21" y="2"/><use href="#scirc" x="40" y="2"/><use href="#icirc" x="58" y="2"/></svg></div>
<div class="c" style="left:80px;width:57px"><svg class="xx" width="14" height="14"><use href="#xmark"/></svg></div>
<div class="c" style="left:138px;width:34px"><span>13</span></div>
<div class="c" style="left:173px;width:61px"><span>CH10537</span></div>
<div class="c" style="left:235px;width:34px"><span>1</span></div>
<div class="c" style="left:270px;width:82px"><span>CH11895</span></div>
<div class="c" style="left:353px;width:122px"><span>BOLT</span></div>
<div class="c" style="left:476px;width:52px"><span></span></div>
<div class="c" style="left:529px;width:41px"><span></span></div>
<div class="c" style="left:571px;width:60px"><span></span></div>
</div>
<div class="tr" style="top:299px">
<div class="c" style="left:0px;width:79px"><svg class="ic" width="80" height="19"><use href="#gear" x="6" y="4"/><use href="#cart" x="21" y="2"/><use href="#scirc" x="40" y="2"/><use href="#icirc" x="58" y="2"/></svg></div>
<div class="c" style="left:80px;width:57px"><svg class="xx" width="14" height="14"><use href="#xmark"/></svg></div>
<div class="c" style="left:138px;width:34px"><span>14</span></div>
<div class="c" style="left:173px;width:61px"><span>CH10541</span></div>
<div class="c" style="left:235px;width:34px"><span>1</span></div>
<div class="c" style="left:270px;width:82px"><span>CH10255</span></div>
<div class="c" style="left:353px;width:122px"><span>WASHER</span></div>
<div class="c" style="left:476px;width:52px"><span></span></div>
<div class="c" style="left:529px;width:41px"><span></span></div>
<div class="c" style="left:571px;width:60px"><span></span></div>
</div>
<div class="tr" style="top:319px">
<div class="c" style="left:0px;width:79px"><svg class="ic" width="80" height="19"><use href="#gear" x="6" y="4"/><use href="#cart" x="21" y="2"/><use href="#icirc" x="40" y="2"/></svg></div>
<div class="c" style="left:80px;width:57px"></div>
<div class="c" style="left:138px;width:34px"><span>15</span></div>
<div class="c" style="left:173px;width:61px"><span>CH10072</span></div>
<div class="c" style="left:235px;width:34px"><span>2</span></div>
<div class="c" style="left:270px;width:82px"><span>CH10072</span></div>
<div class="c" style="left:353px;width:122px"><span>CLIP</span></div>
<div class="c" style="left:476px;width:52px"><span></span></div>
<div class="c" style="left:529px;width:41px"><span></span></div>
<div class="c" style="left:571px;width:60px"><span></span></div>
</div>
<div class="tr" style="top:339px">
<div class="c" style="left:0px;width:79px"><svg class="ic" width="80" height="19"><use href="#gear" x="6" y="4"/><use href="#cart" x="21" y="2"/><use href="#icirc" x="40" y="2"/></svg></div>
<div class="c" style="left:80px;width:57px"></div>
<div class="c" style="left:138px;width:34px"><span>16</span></div>
<div class="c" style="left:173px;width:61px"><span>CH10054</span></div>
<div class="c" style="left:235px;width:34px"><span>2</span></div>
<div class="c" style="left:270px;width:82px"><span>CH10054</span></div>
<div class="c" style="left:353px;width:122px"><span>CABLE TIE</span></div>
<div class="c" style="left:476px;width:52px"><span></span></div>
<div class="c" style="left:529px;width:41px"><span></span></div>
<div class="c" style="left:571px;width:60px"><span></span></div>
</div>
<div class="tr" style="top:359px">
<div class="c" style="left:0px;width:79px"><svg class="ic" width="80" height="19"><use href="#gear" x="6" y="4"/><use href="#cart" x="21" y="2"/><use href="#scirc" x="40" y="2"/><use href="#icirc" x="58" y="2"/></svg></div>
<div class="c" style="left:80px;width:57px"></div>
<div class="c" style="left:138px;width:34px"><span>17</span></div>
<div class="c" style="left:173px;width:61px"><span>CH10794</span></div>
<div class="c" style="left:235px;width:34px"><span>2</span></div>
<div class="c" style="left:270px;width:82px"><span>CH11897</span></div>
<div class="c" style="left:353px;width:122px"><span>BOLT</span></div>
<div class="c" style="left:476px;width:52px"><span></span></div>
<div class="c" style="left:529px;width:41px"><span></span></div>
<div class="c" style="left:571px;width:60px"><span></span></div>
</div>
<div class="tr" style="top:379px">
<div class="c" style="left:0px;width:79px"><svg class="ic" width="80" height="19"><use href="#gear" x="6" y="4"/><use href="#cart" x="21" y="2"/><use href="#scirc" x="40" y="2"/><use href="#icirc" x="58" y="2"/></svg></div>
<div class="c" style="left:80px;width:57px"><svg class="xx" width="14" height="14"><use href="#xmark"/></svg></div>
<div class="c" style="left:138px;width:34px"><span>18</span></div>
<div class="c" style="left:173px;width:61px"><span>CH10541</span></div>
<div class="c" style="left:235px;width:34px"><span>2</span></div>
<div class="c" style="left:270px;width:82px"><span>CH10255</span></div>
<div class="c" style="left:353px;width:122px"><span>WASHER</span></div>
<div class="c" style="left:476px;width:52px"><span></span></div>
<div class="c" style="left:529px;width:41px"><span></span></div>
<div class="c" style="left:571px;width:60px"><span></span></div>
</div>
<div class="tr" style="top:399px">
<div class="c" style="left:0px;width:79px"><svg class="ic" width="80" height="19"><use href="#gear" x="6" y="4"/><use href="#cart" x="21" y="2"/><use href="#icirc" x="40" y="2"/></svg></div>
<div class="c" style="left:80px;width:57px"></div>
<div class="c" style="left:138px;width:34px"><span>19</span></div>
<div class="c" style="left:173px;width:61px"><span>CH10072</span></div>
<div class="c" style="left:235px;width:34px"><span>1</span></div>
<div class="c" style="left:270px;width:82px"><span>CH10072</span></div>
<div class="c" style="left:353px;width:122px"><span>CLIP</span></div>
<div class="c" style="left:476px;width:52px"><span></span></div>
<div class="c" style="left:529px;width:41px"><span></span></div>
<div class="c" style="left:571px;width:60px"><span></span></div>
</div>
<div class="tr hov" style="top:419px">
<div class="c" style="left:0px;width:79px"><svg class="ic" width="80" height="19"><use href="#gear" x="6" y="4"/><use href="#cart" x="21" y="2"/><use href="#icirc" x="40" y="2"/></svg></div>
<div class="c" style="left:80px;width:57px"></div>
<div class="c" style="left:138px;width:34px"><span>20</span></div>
<div class="c" style="left:173px;width:61px"><span>CH10054</span></div>
<div class="c" style="left:235px;width:34px"><span>1</span></div>
<div class="c" style="left:270px;width:82px"><span>CH10054</span></div>
<div class="c" style="left:353px;width:122px"><span>CABLE TIE</span></div>
<div class="c" style="left:476px;width:52px"><span></span></div>
<div class="c" style="left:529px;width:41px"><span></span></div>
<div class="c" style="left:571px;width:60px"><span></span></div>
</div>
<div class="tr" style="top:439px">
<div class="c" style="left:0px;width:79px"><svg class="ic" width="80" height="19"><use href="#gear" x="6" y="4"/><use href="#cart" x="21" y="2"/><use href="#icirc" x="40" y="2"/></svg></div>
<div class="c" style="left:80px;width:57px"></div>
<div class="c" style="left:138px;width:34px"><span>21</span></div>
<div class="c" style="left:173px;width:61px"><span>CH10796</span></div>
<div class="c" style="left:235px;width:34px"><span>1</span></div>
<div class="c" style="left:270px;width:82px"><span>CH10796</span></div>
<div class="c" style="left:353px;width:122px"><span>BOLT</span></div>
<div class="c" style="left:476px;width:52px"><span></span></div>
<div class="c" style="left:529px;width:41px"><span></span></div>
<div class="c" style="left:571px;width:60px"><span></span></div>
</div>
<div class="tr" style="top:459px">
<div class="c" style="left:0px;width:79px"><svg class="ic" width="80" height="19"><use href="#gear" x="6" y="4"/><use href="#cart" x="21" y="2"/><use href="#icirc" x="40" y="2"/></svg></div>
<div class="c" style="left:80px;width:57px"></div>
<div class="c" style="left:138px;width:34px"><span>22</span></div>
<div class="c" style="left:173px;width:61px"><span>CH10277</span></div>
<div class="c" style="left:235px;width:34px"><span>1</span></div>
<div class="c" style="left:270px;width:82px"><span>CH10277</span></div>
<div class="c" style="left:353px;width:122px"><span>WASHER</span></div>
<div class="c" style="left:476px;width:52px"><span></span></div>
<div class="c" style="left:529px;width:41px"><span></span></div>
<div class="c" style="left:571px;width:60px"><span></span></div>
</div><svg style="position:absolute;left:1095px;top:552px" width="49" height="55" viewBox="0 0 49 55">
<g fill="none" stroke="#17569c" stroke-width="2.7">
<circle cx="17.6" cy="15" r="6.8"/><circle cx="33.8" cy="15" r="6.8"/>
<circle cx="17.6" cy="31.7" r="6.8"/><circle cx="33.8" cy="31.7" r="6.8"/>
<path d="M12.8 19.8 L22.4 10.2 M29 10.2 L38.6 19.8 M12.8 26.9 L22.4 36.5 M29 36.5 L38.6 26.9" stroke-width="2.4"/>
</g>
<g fill="#17569c"><path d="M25.7 6 L27.6 11 L25.7 16.5 L23.8 11 Z M25.7 30 L27.6 35.5 L25.7 40.8 L23.8 35.5 Z M9 23.3 L14.5 21.4 L19.5 23.3 L14.5 25.2 Z M32 23.3 L37 21.4 L42.5 23.3 L37 25.2 Z"/></g>
<text x="8" y="51.8" font-family="Liberation Sans" font-weight="bold" font-size="10.2" fill="#17569c" letter-spacing="-0.2">Perkins</text>
<text x="43.5" y="47.5" font-family="Liberation Sans" font-size="3" fill="#17569c">®</text>
</svg>
</body></html>
